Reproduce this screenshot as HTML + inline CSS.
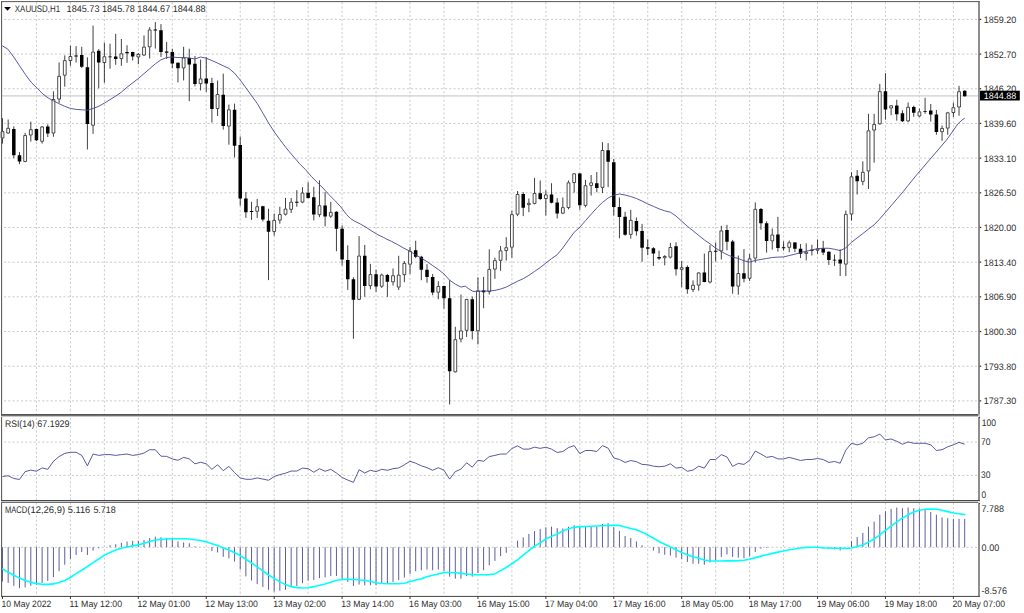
<!DOCTYPE html>
<html><head><meta charset="utf-8"><title>XAUUSD,H1</title>
<style>html,body{margin:0;padding:0;background:#fff;overflow:hidden}svg{display:block}text{font-family:"Liberation Sans",sans-serif}</style></head>
<body>
<svg width="1024" height="613" viewBox="0 0 1024 613">
<rect width="1024" height="613" fill="#fff"/>
<path d="M36.46 2.2V596.3M70.42 2.2V596.3M104.38 2.2V596.3M138.34 2.2V596.3M172.3 2.2V596.3M206.26 2.2V596.3M240.22 2.2V596.3M274.18 2.2V596.3M308.14 2.2V596.3M342.1 2.2V596.3M376.06 2.2V596.3M410.02 2.2V596.3M443.98 2.2V596.3M477.94 2.2V596.3M511.9 2.2V596.3M545.86 2.2V596.3M579.82 2.2V596.3M613.78 2.2V596.3M647.74 2.2V596.3M681.7 2.2V596.3M715.66 2.2V596.3M749.62 2.2V596.3M783.58 2.2V596.3M817.54 2.2V596.3M851.5 2.2V596.3M885.46 2.2V596.3M919.42 2.2V596.3M953.38 2.2V596.3" fill="none" stroke="#b8b8b8" stroke-width="0.75" stroke-dasharray="2.12 2.12"/>
<path d="M2.2 19.4H979M2.2 54.08H979M2.2 88.76H979M2.2 123.44H979M2.2 158.12H979M2.2 192.8H979M2.2 227.48H979M2.2 262.16H979M2.2 296.84H979M2.2 331.52H979M2.2 366.2H979M2.2 400.88H979M2.2 442.1H979M2.2 475.4H979M2.2 547.3H979" fill="none" stroke="#b8b8b8" stroke-width="0.75" stroke-dasharray="2.12 2.12" stroke-dashoffset="2.44"/>
<path d="M2 95.95H979" stroke="#cecece" stroke-width="1.2" fill="none"/>
<path d="M2.5 118.16V131.27M2.5 138.32V143.6M8.16 119.53V127.95M8.16 133.42V133.82M13.82 126.38V158.28M19.48 152.02V164.15M25.14 132.84V135.19M25.14 161.8V162.19M30.8 121.68V129.32M30.8 135.38V141.64M36.46 128.53V141.06M42.12 125.99V126.58M42.12 141.64V143.6M47.78 124.42V137.14M53.44 91.35V99.18M53.44 133.42V136.75M59.1 62.45V75.95M59.1 99.43V102.95M64.76 55.4V60.29M64.76 75.56V86.71M70.42 45.81V56.18M70.42 60.88V65.77M76.08 46.2V62.45M81.74 46.79V68.12M87.4 57.36V149.47M93.06 25.66V51.68M93.06 125.6V133.82M98.72 49.14V88.28M104.38 42.68V56.38M104.38 62.84V82.8M110.04 43.66V68.71M115.7 33.87V64.79M121.36 38.96V53.44M121.36 58.92V65.77M127.02 45.23V62.84M132.68 51.68V60.49M138.34 53.05V54.03M138.34 57.36V64.21M144 35.44V46.79M144 55.4V55.99M149.66 27.22V29.57M149.66 47.18V58.53M155.32 22.13V48.55M160.98 24.09V56.97M166.64 41.9V58.92M172.3 48.75V68.32M177.96 62.45V82.41M183.62 46.79V57.55M183.62 68.32V80.45M189.28 48.75V101.14M194.94 56.05V86.38M200.6 59.57V78.55M200.6 84.03V90.49M206.26 57.22V91.86M211.92 77.77V122.58M217.58 80.51V94.21M217.58 108.88V115.93M223.24 73.66V129.63M228.9 104.58V109.47M228.9 126.5V144.7M234.56 103.6V157.42M240.22 136.48V205.77M245.88 192.07V217.91M251.54 201.86V219.86M257.2 198.92V206.36M257.2 211.64V217.91M262.86 205.77V221.43M268.52 208.71V280.12M274.18 213.6V220.06M274.18 231.8V235.71M279.84 206.75V214.19M279.84 220.45V223.78M285.5 197.95V208.71M285.5 214.58V215.56M291.16 197.95V201.86M291.16 209.69V213.01M296.82 190.12V206.75M302.48 187.18V192.66M302.48 202.45V203.23M308.14 182.29V198.53M313.8 186.79V220.45M319.46 180.33V205.38M319.46 214.97V217.12M325.12 192.07V226.32M330.78 201.86V212.04M330.78 216.54V217.91M336.44 211.25V251.17M342.1 225.34V265.46M347.76 245.3V289.9M353.42 277.18V338.83M359.08 236.11V255.68M359.08 299.69V300.08M364.74 244.91V296.75M370.4 263.87V274.25M370.4 285.99V289.32M376.06 269.75V291.86M381.72 273.66V274.64M381.72 286.58V287.95M387.38 273.97V296.87M393.04 268.49V275.34M393.04 282.19V285.52M398.7 255.77V274.76M398.7 287.48V290.02M404.36 261.06V263.01M404.36 274.95V282.19M410.02 246.97V250.88M410.02 264.58V273.97M415.68 240.7V258.12M421.34 255.77V280.23M427 264.19V282.78M432.66 273.97V295.3M438.32 281.21V286.11M438.32 292.56V299.22M443.98 285.71V308.61M449.64 280.23V404.48M455.3 326.79V339.32M455.3 372.19V372.58M460.96 294.52V330.51M460.96 339.32V342.45M466.62 298.83V299.22M466.62 330.7V336.97M472.28 296.48V339.51M477.94 277.3V290.41M477.94 331.1V344.4M483.6 276.91V308.22M489.26 249.32V269.08M489.26 291.98V294.52M494.92 257.73V260.27M494.92 269.47V278.86M500.58 245.99V250.49M500.58 260.67V270.84M506.24 237.18V247.36M506.24 250.88V260.67M511.9 210.76V214.29M511.9 247.55V257.73M517.56 191.06V194.19M517.56 214.54V216.11M523.22 192.23V216.11M528.88 198.49V202.99M528.88 204.95V212.19M534.54 177.95V193.21M534.54 203.78V204.36M540.2 180.49V200.06M545.86 190.27V194.58M545.86 198.88V215.52M551.52 183.23V203.39M557.18 198.1V218.45M562.84 197.51V207.3M562.84 213.56V214.15M568.5 180.49V182.45M568.5 207.89V209.26M574.16 173.05V173.44M574.16 182.84V192.62M579.82 173.05V209.84M585.48 179.9V185.38M585.48 205.73V207.3M591.14 175.01V182.45M591.14 185.77V195.56M596.8 172.07V192.23M602.46 142.13V150.16M602.46 187.73V193.01M608.12 143.11V187.14M613.78 158.96V215.52M619.44 197.51V238.22M625.1 211.8V235.68M630.76 209.84V220.02M630.76 234.7V238.61M636.42 217.48V235.68M642.08 223.86V261.82M647.74 239.32V255.17M653.4 247.14V265.93M659.06 250.67V260.06M664.72 255.17V256.14M664.72 258.1V265.34M670.38 242.84V247.14M670.38 257.51V258.49M676.04 242.25V275.52M681.7 260.84V267.3M681.7 269.65V287.26M687.36 265.34V293.72M693.02 280.41V284.91M693.02 289.8V292.15M698.68 272.19V272.58M698.68 285.5V290.78M704.34 253.6V282.37M710 245.19V251.25M710 282.37V283.54M715.66 242.45V261.43M721.32 225.81V230.51M721.32 251.25V259.47M726.98 224.83V250.27M732.64 239.9V293.72M738.3 255.56V273.17M738.3 286.48V294.7M743.96 249.1V282.37M749.62 253.99V258.49M749.62 278.65V281M755.28 202.33V208.98M755.28 258.49V262.41M760.94 208V229.73M766.6 221.31V252.62M772.26 228.55V234.62M772.26 241.27V249.69M777.92 216.81V251.64M783.58 241.43V250.63M789.24 240.45V242.41M789.24 247.69V252.19M794.9 242.02V252.19M800.56 243.97V258.06M806.22 243.39V251.8M806.22 253.76V260.41M811.88 244.76V255.52M817.54 239.47V248.67M817.54 250.63V253.76M823.2 240.84V255.13M828.86 251.21V264.91M834.52 254.54V265.89M840.18 249.26V276.07M845.84 210.51V214.03M845.84 264.52V276.07M851.5 172.35V176.46M851.5 214.42V220.49M857.16 169.98V194.46M862.82 161.37V171.96M862.82 181.74V185.26M868.48 113.82V130.45M868.48 171.37V188.98M874.14 113.82V124.19M874.14 130.45V162.74M879.8 83.87V91.31M879.8 124.19V124.58M885.46 73.11V119.69M891.12 105.01V105.4M891.12 108.34V115.19M896.78 99.73V120.67M902.44 110.29V122.04M908.1 102.47V106.97M908.1 121.25V122.23M913.76 105.6V116.75M919.42 108.53V111.47M919.42 116.36V117.14M925.08 97.77V113.82M930.74 104.03V121.64M936.4 109.9V134.76M942.06 125.56V128.1M942.06 132.02V140.82M947.72 111.86V112.45M947.72 128.49V134.76M953.38 102.47V107.36M953.38 112.84V117.14M959.04 85.83V91.31M959.04 107.36V115.77M964.7 90.33V96.59" stroke="#000" stroke-width="0.75" fill="none"/>
<path d="M12.07 128.92h3.5V155.34h-3.5zM17.73 155.34h3.5V161.6h-3.5zM34.71 128.92h3.5V140.27h-3.5zM46.03 126.58h3.5V133.42h-3.5zM74.33 55.4h3.5V56.58h-3.5zM79.99 55.01h3.5V66.75h-3.5zM85.65 67.14h3.5V124.03h-3.5zM96.97 50.7h3.5V62.45h-3.5zM108.29 56.42h3.5V57.32h-3.5zM113.95 56.58h3.5V58.92h-3.5zM125.27 52.07h3.5V53.25h-3.5zM130.93 52.07h3.5V56.58h-3.5zM153.57 29.57h3.5V30.55h-3.5zM159.23 30.16h3.5V52.07h-3.5zM164.89 51.49h3.5V52.66h-3.5zM170.55 52.07h3.5V63.42h-3.5zM176.21 62.84h3.5V68.32h-3.5zM187.53 57.95h3.5V64.4h-3.5zM193.19 63.87h3.5V84.03h-3.5zM204.51 78.55h3.5V83.44h-3.5zM210.17 83.05h3.5V108.88h-3.5zM221.49 94.79h3.5V126.11h-3.5zM232.81 109.86h3.5V145.68h-3.5zM238.47 145.09h3.5V198.53h-3.5zM244.13 198.53h3.5V212.23h-3.5zM249.79 211.06h3.5V212.04h-3.5zM261.11 206.16h3.5V219.47h-3.5zM266.77 220.84h3.5V231.8h-3.5zM295.07 201.86h3.5V202.84h-3.5zM306.39 192.66h3.5V197.95h-3.5zM312.05 197.36h3.5V214.58h-3.5zM323.37 205.38h3.5V216.54h-3.5zM334.69 211.64h3.5V228.86h-3.5zM340.35 228.86h3.5V259.59h-3.5zM346.01 259.98h3.5V279.14h-3.5zM351.67 279.14h3.5V299.69h-3.5zM362.99 255.68h3.5V285.99h-3.5zM374.31 274.25h3.5V286.38h-3.5zM385.63 274.95h3.5V281.8h-3.5zM413.93 250.29h3.5V256.75h-3.5zM419.59 256.75h3.5V269.86h-3.5zM425.25 269.86h3.5V276.91h-3.5zM430.91 276.91h3.5V292.56h-3.5zM442.23 286.11h3.5V298.24h-3.5zM447.89 298.24h3.5V371.21h-3.5zM470.53 299.22h3.5V331.1h-3.5zM481.85 290.41h3.5V292.37h-3.5zM521.47 193.99h3.5V207.69h-3.5zM538.45 193.21h3.5V198.88h-3.5zM549.77 194.58h3.5V202.8h-3.5zM555.43 202.41h3.5V213.56h-3.5zM578.07 173.44h3.5V205.34h-3.5zM595.05 183.23h3.5V188.12h-3.5zM606.37 150.16h3.5V161.7h-3.5zM612.03 162.29h3.5V206.91h-3.5zM617.69 206.91h3.5V217.08h-3.5zM623.35 216.69h3.5V234.7h-3.5zM634.67 221h3.5V231.17h-3.5zM640.33 231.1h3.5V247.73h-3.5zM645.99 247.14h3.5V248.71h-3.5zM651.65 248.32h3.5V253.6h-3.5zM657.31 257.12h3.5V258.49h-3.5zM674.29 246.36h3.5V269.26h-3.5zM685.61 266.91h3.5V289.22h-3.5zM702.59 272.58h3.5V281.98h-3.5zM713.91 250.67h3.5V251.84h-3.5zM725.23 230.12h3.5V241.86h-3.5zM730.89 241.47h3.5V286.48h-3.5zM742.21 273.17h3.5V278.65h-3.5zM759.19 208.98h3.5V223.27h-3.5zM764.85 223.27h3.5V240.88h-3.5zM776.17 234.42h3.5V248.12h-3.5zM781.83 247.3h3.5V248.28h-3.5zM793.15 242.41h3.5V248.67h-3.5zM798.81 248.67h3.5V253.76h-3.5zM810.13 249.79h3.5V250.69h-3.5zM821.45 248.28h3.5V252.58h-3.5zM827.11 251.8h3.5V260.02h-3.5zM832.77 259.63h3.5V260.61h-3.5zM838.43 259.43h3.5V263.54h-3.5zM855.41 175.87h3.5V181.15h-3.5zM883.71 91.31h3.5V109.51h-3.5zM895.03 105.6h3.5V114.21h-3.5zM900.69 113.23h3.5V121.25h-3.5zM912.01 106.97h3.5V112.84h-3.5zM923.33 110.88h3.5V111.86h-3.5zM928.99 110.49h3.5V114.4h-3.5zM934.65 114.4h3.5V132.02h-3.5zM962.95 90.72h3.5V96.2h-3.5z" fill="#000"/>
<path d="M1.1 131.62h2.8V137.97h-2.8zM6.76 128.3h2.8V133.07h-2.8zM23.74 135.54h2.8V161.45h-2.8zM29.4 129.67h2.8V135.03h-2.8zM40.72 126.93h2.8V141.29h-2.8zM52.04 99.53h2.8V133.07h-2.8zM57.7 76.3h2.8V99.08h-2.8zM63.36 60.64h2.8V75.21h-2.8zM69.02 56.53h2.8V60.53h-2.8zM91.66 52.03h2.8V125.25h-2.8zM102.98 56.73h2.8V62.49h-2.8zM119.96 53.79h2.8V58.57h-2.8zM136.94 54.38h2.8V57.01h-2.8zM142.6 47.14h2.8V55.05h-2.8zM148.26 29.92h2.8V46.83h-2.8zM182.22 57.9h2.8V67.97h-2.8zM199.2 78.9h2.8V83.68h-2.8zM216.18 94.56h2.8V108.53h-2.8zM227.5 109.82h2.8V126.15h-2.8zM255.8 206.71h2.8V211.29h-2.8zM272.78 220.41h2.8V231.45h-2.8zM278.44 214.54h2.8V220.1h-2.8zM284.1 209.06h2.8V214.23h-2.8zM289.76 202.21h2.8V209.34h-2.8zM301.08 193.01h2.8V202.1h-2.8zM318.06 205.73h2.8V214.62h-2.8zM329.38 212.39h2.8V216.19h-2.8zM357.68 256.03h2.8V299.34h-2.8zM369 274.6h2.8V285.64h-2.8zM380.32 274.99h2.8V286.23h-2.8zM391.64 275.69h2.8V281.84h-2.8zM397.3 275.11h2.8V287.13h-2.8zM402.96 263.36h2.8V274.6h-2.8zM408.62 251.23h2.8V264.23h-2.8zM436.92 286.46h2.8V292.21h-2.8zM453.9 339.67h2.8V371.84h-2.8zM459.56 330.86h2.8V338.97h-2.8zM465.22 299.57h2.8V330.35h-2.8zM476.54 290.76h2.8V330.75h-2.8zM487.86 269.43h2.8V291.63h-2.8zM493.52 260.62h2.8V269.12h-2.8zM499.18 250.84h2.8V260.32h-2.8zM504.84 247.71h2.8V250.53h-2.8zM510.5 214.64h2.8V247.2h-2.8zM516.16 194.54h2.8V214.19h-2.8zM527.48 203.34h2.8V204.6h-2.8zM533.14 193.56h2.8V203.43h-2.8zM544.46 194.93h2.8V198.53h-2.8zM561.44 207.65h2.8V213.21h-2.8zM567.1 182.8h2.8V207.54h-2.8zM572.76 173.79h2.8V182.49h-2.8zM584.08 185.73h2.8V205.38h-2.8zM589.74 182.8h2.8V185.42h-2.8zM601.06 150.51h2.8V187.38h-2.8zM629.36 220.37h2.8V234.35h-2.8zM663.32 256.49h2.8V257.75h-2.8zM668.98 247.49h2.8V257.16h-2.8zM680.3 267.65h2.8V269.3h-2.8zM691.62 285.26h2.8V289.45h-2.8zM697.28 272.93h2.8V285.15h-2.8zM708.6 251.6h2.8V282.02h-2.8zM719.92 230.86h2.8V250.9h-2.8zM736.9 273.52h2.8V286.13h-2.8zM748.22 258.84h2.8V278.3h-2.8zM753.88 209.33h2.8V258.14h-2.8zM770.86 234.97h2.8V240.92h-2.8zM787.84 242.76h2.8V247.34h-2.8zM804.82 252.15h2.8V253.41h-2.8zM816.14 249.02h2.8V250.28h-2.8zM844.44 214.38h2.8V264.17h-2.8zM850.1 176.81h2.8V214.07h-2.8zM861.42 172.31h2.8V181.39h-2.8zM867.08 130.8h2.8V171.02h-2.8zM872.74 124.54h2.8V130.1h-2.8zM878.4 91.66h2.8V123.84h-2.8zM889.72 105.75h2.8V107.99h-2.8zM906.7 107.32h2.8V120.9h-2.8zM918.02 111.82h2.8V116.01h-2.8zM940.66 128.45h2.8V131.67h-2.8zM946.32 112.8h2.8V128.14h-2.8zM951.98 107.71h2.8V112.49h-2.8zM957.64 91.66h2.8V107.01h-2.8z" fill="#fff" stroke="#000" stroke-width="0.7"/>
<polyline fill="none" stroke="#464698" stroke-width="0.9" stroke-linejoin="round" points="2.35,45.81 7.83,49.14 13.7,56.97 19.57,65.77 25.44,74.58 31.31,82.41 37.18,88.28 43.05,94.15 48.92,98.45 53.82,101 58.71,103.54 64.58,106.28 70.45,108.43 76.32,109.41 82.19,109.8 87.48,110.2 93.15,108.43 98.83,106.28 104.7,102.95 109.98,99.63 115.66,96.11 121.33,92.19 127.01,87.3 132.68,82.8 138.36,78.49 144.03,73.6 149.71,68.71 155.38,63.82 160.86,59.9 166.54,57.55 172.21,56.97 177.89,57.55 183.56,57.55 189.24,57.95 194.89,58.98 200.57,57.03 206.24,58.2 211.92,60.55 217.59,63.09 223.27,65.83 228.94,68.38 234.62,73.27 240.29,80.12 245.97,87.95 251.64,95.77 257.32,103.6 262.99,113.39 268.67,123.17 274.34,131.98 280.02,139.8 285.69,147.24 287.85,150 293.72,156.85 299.59,163.7 305.46,169.57 311.33,176.42 317.2,182.29 323.07,188.16 328.94,194.62 334.81,200.49 340.68,206.75 346.56,214.58 350.47,218.49 354.38,221.04 360.25,223.97 366.13,227.3 372,231.21 377.87,234.74 380,235.81 383.74,237.48 385.87,238.75 391.74,241.49 397.61,244.62 403.48,247.95 409.94,251.27 415.62,254.79 421.29,258.12 426.97,261.64 432.64,265.56 438.32,269.47 443.99,273.97 449.67,280.23 455.34,284.15 461.02,287.08 465.13,286.11 469.04,289.04 472.95,291.39 477.85,291.39 483.52,291 489.2,291 494.87,290.41 500.55,289.04 506.22,287.08 511.9,284.15 517.57,281.21 523.25,278.67 528.92,275.34 534.6,271.43 540.27,267.51 545.95,263.01 551.43,258.71 557.1,254.79 562.78,247.95 568.45,240.12 574.13,232.29 580,227.01 585.68,220.41 591.55,213.76 597.42,207.3 602.5,202.41 608.18,197.91 613.86,195.17 619.33,193.99 625.01,194.97 630.68,196.54 636.36,198.49 642.04,201.04 647.71,203.97 653.39,206.32 659.06,208.86 664.74,210.82 670.41,212.19 676.09,216.11 681.8,221.31 687.28,226.2 692.95,230.7 698.63,235.4 704.31,239.9 709.98,243.82 715.66,248.12 721.33,251.64 727.01,254.58 732.68,257.12 738.36,258.49 744.03,260.84 749.71,262.02 755.19,260.45 760.86,259.47 766.54,258.49 772.21,257.51 777.89,257.12 783.56,256.93 789.24,255.56 794.91,254.19 800.55,252.58 806.22,251.21 811.9,249.84 817.57,248.67 823.25,248.28 828.92,248.28 834.6,249.26 840.27,250.63 845.75,247.89 851.43,242.41 857.1,237.91 862.78,233.6 868.45,229.1 874.13,224.79 879.8,218.92 885.68,212.07 891.55,205.23 897.42,198.38 903.29,191.53 909.16,184.09 915.03,176.85 916.99,174.48 922.86,167.63 928.73,160.78 934.6,153.93 940.47,147.08 946.34,140.23 952.21,132.02 958.08,123.6 962.97,119.3 964.74,118.32"/>
<polyline fill="none" stroke="#464698" stroke-width="0.9" stroke-linejoin="round" points="2.5,476.54 8.16,475.75 13.82,478.49 19.48,479.47 25.14,471.64 30.8,470.08 36.46,471.25 42.12,467.93 47.78,469.3 53.44,461.27 59.1,456.58 64.76,453.44 70.42,452.27 76.08,452.27 81.74,455.4 87.4,465.77 93.06,454.03 98.72,455.4 104.38,454.62 110.04,454.62 115.7,455.4 121.36,454.62 127.02,454.03 132.68,455.4 138.34,454.62 144,453.05 149.66,449.73 155.32,449.73 160.98,456.18 166.64,456.38 172.3,458.92 177.96,460.29 183.62,457.36 189.28,458.92 194.94,463.82 200.6,462.25 206.26,463.82 211.92,469.3 217.58,464.79 223.24,470.67 228.9,466.36 234.56,472.62 240.22,477.91 245.88,479.28 251.54,479.28 257.2,477.91 262.86,479.08 268.52,480.25 274.18,476.54 279.84,474.58 285.5,473.21 291.16,471.06 296.82,471.06 302.48,468.12 308.14,468.71 313.8,472.23 319.46,468.71 325.12,471.25 330.78,469.3 336.44,473.01 342.1,477.51 347.76,480.06 353.42,482.41 359.08,469.69 364.74,473.01 370.4,470.27 376.06,471.64 381.72,469.3 387.38,470.27 393.04,468.71 398.7,467.93 404.36,464.79 410.02,461.27 415.68,463.23 421.34,465.77 427,467.73 432.66,470.27 438.32,467.73 443.98,470.27 449.64,479.08 455.3,471.64 460.96,469.1 466.62,462.84 472.28,467.14 477.94,460.29 483.6,461.27 489.26,456.58 494.92,455.4 500.58,454.03 506.24,454.03 511.9,448.55 517.56,445.81 523.22,449.14 528.88,449.14 534.54,447.18 540.2,448.36 545.86,447.18 551.52,449.14 557.18,452.47 562.84,451.49 568.5,447.57 574.16,445.62 579.82,453.64 585.48,450.51 591.14,450.51 596.8,451.49 602.46,445.62 608.12,448.16 613.78,457.95 619.44,459.51 625.1,462.45 630.76,460.49 636.42,461.66 642.08,464.4 647.74,464.79 653.4,466.16 659.06,466.75 664.72,466.16 670.38,463.82 676.04,468.12 681.7,467.34 687.36,471.25 693.02,470.08 698.68,466.16 704.34,468.12 710,459.51 715.66,459.51 721.32,454.62 726.98,456.97 732.64,466.36 738.3,463.42 743.96,464.4 749.62,460.29 755.28,451.1 760.94,454.03 766.6,457.36 772.26,456.38 777.92,458.92 783.58,458.92 789.24,457.36 794.9,458.92 800.56,460.49 806.22,459.51 811.88,459.51 817.54,458.53 823.2,459.51 828.86,462.45 834.52,461.47 840.18,463.23 845.84,450.12 851.5,443.27 857.16,444.83 862.82,443.27 868.48,437.79 874.14,436.81 879.8,434.07 885.46,439.94 891.12,438.96 896.78,441.31 902.44,444.25 908.1,441.9 913.76,443.27 919.42,443.27 925.08,443.27 930.74,444.83 936.4,450.51 942.06,449.73 947.72,446.79 953.38,444.83 959.04,442.29 964.7,444.25"/>
<path d="M2.5 547.2V581.52M8.16 547.2V582.89M13.82 547.2V585.82M19.48 547.2V588.16M25.14 547.2V587.38M30.8 547.2V585.82M36.46 547.2V584.84M42.12 547.2V582.89M47.78 547.2V580.94M53.44 547.2V577.03M59.1 547.2V571.17M64.76 547.2V564.73M70.42 547.2V559.06M76.08 547.2V554.96M81.74 547.2V552.03M87.4 547.2V554.96M93.06 547.2V550.66M98.72 547.2V548.32M110.04 547.2V545.2M115.7 547.2V544.22M121.36 547.2V542.85M127.02 547.2V541.48M132.68 547.2V540.9M138.34 547.2V540.9M144 547.2V540.08M149.66 547.2V538.03M155.32 547.2V536.66M160.98 547.2V537.34M166.64 547.2V538.03M172.3 547.2V538.71M177.96 547.2V541.45M183.62 547.2V542.41M189.28 547.2V543.23M194.94 547.2V546.25M211.92 547.2V551.04M217.58 547.2V552.41M223.24 547.2V556.79M228.9 547.2V558.3M234.56 547.2V561.59M240.22 547.2V569.53M245.88 547.2V576.38M251.54 547.2V580.49M257.2 547.2V584.19M262.86 547.2V587.07M268.52 547.2V589.81M274.18 547.2V591.73M279.84 547.2V590.77M285.5 547.2V589.81M291.16 547.2V586.66M296.82 547.2V585.97M302.48 547.2V583.23M308.14 547.2V580.49M313.8 547.2V580.08M319.46 547.2V578.16M325.12 547.2V577.34M330.78 547.2V576.11M336.44 547.2V575.97M342.1 547.2V579.12M347.76 547.2V581.86M353.42 547.2V585.97M359.08 547.2V584.6M364.74 547.2V585.29M370.4 547.2V585.29M376.06 547.2V585.29M381.72 547.2V583.92M387.38 547.2V583.51M393.04 547.2V581.86M398.7 547.2V580.08M404.36 547.2V577.48M410.02 547.2V573.92M415.68 547.2V571.18M421.34 547.2V570.22M427 547.2V569.53M432.66 547.2V570.22M438.32 547.2V569.53M443.98 547.2V570.9M449.64 547.2V576.66M455.3 547.2V578.71M460.96 547.2V578.71M466.62 547.2V575.97M472.28 547.2V576.66M477.94 547.2V572.96M483.6 547.2V570.22M489.26 547.2V565.42M494.92 547.2V560.9M500.58 547.2V556.11M506.24 547.2V552.82M517.56 547.2V540.77M523.22 547.2V537.34M528.88 547.2V533.92M534.54 547.2V531.18M540.2 547.2V528.85M545.86 547.2V527.34M551.52 547.2V526.66M557.18 547.2V528.16M562.84 547.2V528.44M568.5 547.2V526.66M574.16 547.2V525.29M579.82 547.2V526.66M585.48 547.2V526.66M591.14 547.2V526.38M596.8 547.2V526.38M602.46 547.2V524.05M608.12 547.2V523.23M613.78 547.2V527.07M619.44 547.2V530.9M625.1 547.2V535.97M630.76 547.2V538.03M636.42 547.2V541.45M642.08 547.2V545.15M653.4 547.2V550.63M659.06 547.2V553.37M664.72 547.2V554.74M670.38 547.2V555.56M676.04 547.2V557.62M681.7 547.2V558.99M687.36 547.2V562M693.02 547.2V563.78M698.68 547.2V563.78M704.34 547.2V564.74M710 547.2V562.41M715.66 547.2V560.63M721.32 547.2V556.93M726.98 547.2V554.47M732.64 547.2V556.93M738.3 547.2V557.62M743.96 547.2V558.16M749.62 547.2V556.52M755.28 547.2V552M760.94 547.2V548.71M766.6 547.2V547.89M823.2 547.2V547.62M828.86 547.2V548.71M834.52 547.2V549.26M840.18 547.2V550.41M851.5 547.2V541.1M857.16 547.2V536.99M862.82 547.2V532.88M868.48 547.2V526.71M874.14 547.2V521.64M879.8 547.2V514.66M885.46 547.2V511.23M891.12 547.2V508.9M896.78 547.2V507.53M902.44 547.2V508.22M908.1 547.2V507.53M913.76 547.2V508.22M919.42 547.2V508.63M925.08 547.2V509.32M930.74 547.2V511.92M936.4 547.2V514.66M942.06 547.2V517.4M947.72 547.2V518.22M953.38 547.2V518.9M959.04 547.2V518.9M964.7 547.2V518.9" stroke="#5e5e9e" stroke-width="1.0" fill="none"/>
<polyline fill="none" stroke="#00ffff" stroke-width="1.6" stroke-linejoin="round" stroke-linecap="round" points="2.5,568.85 8.16,572.27 13.82,575.29 19.48,578.03 25.14,580.49 30.8,582.27 36.46,583.64 42.12,584.33 47.78,584.33 53.44,583.92 59.1,582.55 64.76,580.49 70.42,577.48 76.08,573.64 81.74,570.22 87.4,566.52 93.06,562.68 98.72,558.99 104.38,555.15 110.04,552.41 115.7,550.08 121.36,548.3 127.02,546.93 132.68,545.84 138.34,544.88 144,543.23 149.66,541.45 155.32,540.08 160.98,539.4 166.64,538.99 172.3,538.71 177.96,538.71 183.62,538.71 189.28,538.99 194.94,539.81 200.6,540.49 206.26,541.86 211.92,543.78 217.58,545.56 223.24,547.89 228.9,550.08 234.56,552.68 240.22,555.56 245.88,559.26 251.54,562.96 257.2,566.79 262.86,570.9 268.52,575.01 274.18,578.44 279.84,581.86 285.5,584.6 291.16,586.66 296.82,587.62 302.48,588.03 308.14,587.75 313.8,586.66 319.46,585.29 325.12,583.92 330.78,582.27 336.44,580.22 342.1,579.53 347.76,579.4 353.42,579.53 359.08,579.81 364.74,580.49 370.4,581.18 376.06,582.82 381.72,583.51 387.38,583.78 393.04,583.78 398.7,583.78 404.36,583.23 410.02,581.59 415.68,580.08 421.34,578.85 427,576.79 432.66,575.29 438.32,573.92 443.98,572.55 449.64,572.55 455.3,572.68 460.96,573.37 466.62,574.05 472.28,574.6 477.94,574.74 483.6,574.74 489.26,574.6 494.92,573.92 500.58,570.63 506.24,567.48 511.9,563.78 517.56,559.86 523.22,555.07 528.88,550.68 534.54,546.25 540.2,542.82 545.86,538.99 551.52,536.38 557.18,533.92 562.84,530.9 568.5,528.71 574.16,527.34 579.82,526.66 585.48,526.52 591.14,526.25 596.8,525.97 602.46,525.7 608.12,525.42 613.78,525.29 619.44,525.42 625.1,527.07 630.76,528.44 636.42,529.81 642.08,532.14 647.74,535.01 653.4,538.3 659.06,541.45 664.72,544.19 670.38,546.93 676.04,549.67 681.7,552.41 687.36,554.88 693.02,556.79 698.68,558.3 704.34,559.95 710,561.04 715.66,561.04 721.32,561.04 726.98,560.9 732.64,560.9 738.3,560.63 743.96,560.22 749.62,559.26 755.28,557.62 760.94,556.11 766.6,554.74 772.26,553.37 777.92,552.14 783.58,551.04 789.24,549.67 794.9,548.99 800.56,548.03 806.22,547.34 811.88,547.21 817.54,547.21 823.2,547.89 828.86,548.03 834.52,548.3 840.18,548.22 845.84,548.36 851.5,547.95 857.16,546.58 862.82,544.93 868.48,542.19 874.14,539.04 879.8,534.93 885.46,530.41 891.12,526.03 896.78,521.92 902.44,518.08 908.1,514.79 913.76,512.05 919.42,510.27 925.08,509.32 930.74,509.04 936.4,509.32 942.06,510.27 947.72,511.64 953.38,513.01 959.04,513.7 964.7,514.66"/>
<rect x="979" y="0" width="45" height="613" fill="#fff"/>
<rect x="0" y="596.3" width="1024" height="16.7" fill="#fff"/>
<rect x="978" y="1" width="2" height="596" fill="#8e8e8e"/>
<rect x="1" y="1" width="979" height="1.12" fill="#686868"/>
<rect x="1" y="1" width="1.12" height="596" fill="#626262"/>
<rect x="1" y="595.9" width="979" height="1.1" fill="#555"/>
<rect x="1" y="414" width="978" height="1" fill="#555"/>
<rect x="1" y="415" width="978" height="1" fill="#707070"/>
<rect x="1" y="416" width="978" height="1" fill="#c8c8c8"/>
<rect x="978" y="414" width="2" height="3" fill="#fff" fill-opacity="0.45"/>
<rect x="979" y="417" width="1" height="1" fill="#444"/>
<rect x="1" y="500" width="979" height="1" fill="#484848"/>
<rect x="1" y="501" width="978" height="1" fill="#c8c8c8"/>
<rect x="1" y="502" width="978" height="1" fill="#707070"/>
<rect x="979" y="503" width="1" height="1" fill="#444"/>
<rect x="978" y="501" width="2" height="2" fill="#fff" fill-opacity="0.7"/>
<g font-family="Liberation Sans, sans-serif" text-rendering="geometricPrecision">
<path d="M4.1 6.9h6.8l-3.4 3.8z" fill="#000"/>
<text x="14.8" y="12" font-size="9.6" fill="#2e2e2e" stroke="#2e2e2e" stroke-width="0" text-anchor="start" textLength="45.4" lengthAdjust="spacingAndGlyphs">XAUUSD,H1</text>
<text x="66.6" y="12" font-size="9.6" fill="#2e2e2e" stroke="#2e2e2e" stroke-width="0" text-anchor="start" textLength="139" lengthAdjust="spacingAndGlyphs">1845.73 1845.78 1844.67 1844.88</text>
<text x="4.9" y="427" font-size="9.6" fill="#2e2e2e" stroke="#2e2e2e" stroke-width="0" text-anchor="start" textLength="29.8" lengthAdjust="spacingAndGlyphs">RSI(14)</text>
<text x="37.2" y="427" font-size="9.6" fill="#2e2e2e" stroke="#2e2e2e" stroke-width="0" text-anchor="start" textLength="32.4" lengthAdjust="spacingAndGlyphs">67.1929</text>
<text x="4.9" y="513" font-size="9.6" fill="#2e2e2e" stroke="#2e2e2e" stroke-width="0" text-anchor="start" textLength="22.2" lengthAdjust="spacingAndGlyphs">MACD</text>
<text x="27.3" y="513" font-size="9.6" fill="#2e2e2e" stroke="#2e2e2e" stroke-width="0" text-anchor="start" textLength="37.8" lengthAdjust="spacingAndGlyphs">(12,26,9)</text>
<text x="67.8" y="513" font-size="9.6" fill="#2e2e2e" stroke="#2e2e2e" stroke-width="0" text-anchor="start" textLength="22.4" lengthAdjust="spacingAndGlyphs">5.116</text>
<text x="93.4" y="513" font-size="9.6" fill="#2e2e2e" stroke="#2e2e2e" stroke-width="0" text-anchor="start" textLength="22.4" lengthAdjust="spacingAndGlyphs">5.718</text>
<text x="983.8" y="23" font-size="9.4" fill="#2e2e2e" stroke="#2e2e2e" stroke-width="0" text-anchor="start" textLength="32.5" lengthAdjust="spacingAndGlyphs">1859.20</text>
<rect x="979.6" y="18.8" width="1.6" height="1.2" fill="#333"/>
<text x="983.8" y="58" font-size="9.4" fill="#2e2e2e" stroke="#2e2e2e" stroke-width="0" text-anchor="start" textLength="32.5" lengthAdjust="spacingAndGlyphs">1852.70</text>
<rect x="979.6" y="53.48" width="1.6" height="1.2" fill="#333"/>
<text x="983.8" y="92" font-size="9.4" fill="#2e2e2e" stroke="#2e2e2e" stroke-width="0" text-anchor="start" textLength="32.5" lengthAdjust="spacingAndGlyphs">1846.20</text>
<rect x="979.6" y="88.16" width="1.6" height="1.2" fill="#333"/>
<text x="983.8" y="127" font-size="9.4" fill="#2e2e2e" stroke="#2e2e2e" stroke-width="0" text-anchor="start" textLength="32.5" lengthAdjust="spacingAndGlyphs">1839.60</text>
<rect x="979.6" y="122.84" width="1.6" height="1.2" fill="#333"/>
<text x="983.8" y="162" font-size="9.4" fill="#2e2e2e" stroke="#2e2e2e" stroke-width="0" text-anchor="start" textLength="32.5" lengthAdjust="spacingAndGlyphs">1833.10</text>
<rect x="979.6" y="157.52" width="1.6" height="1.2" fill="#333"/>
<text x="983.8" y="196" font-size="9.4" fill="#2e2e2e" stroke="#2e2e2e" stroke-width="0" text-anchor="start" textLength="32.5" lengthAdjust="spacingAndGlyphs">1826.50</text>
<rect x="979.6" y="192.2" width="1.6" height="1.2" fill="#333"/>
<text x="983.8" y="231" font-size="9.4" fill="#2e2e2e" stroke="#2e2e2e" stroke-width="0" text-anchor="start" textLength="32.5" lengthAdjust="spacingAndGlyphs">1820.00</text>
<rect x="979.6" y="226.88" width="1.6" height="1.2" fill="#333"/>
<text x="983.8" y="266" font-size="9.4" fill="#2e2e2e" stroke="#2e2e2e" stroke-width="0" text-anchor="start" textLength="32.5" lengthAdjust="spacingAndGlyphs">1813.40</text>
<rect x="979.6" y="261.56" width="1.6" height="1.2" fill="#333"/>
<text x="983.8" y="300" font-size="9.4" fill="#2e2e2e" stroke="#2e2e2e" stroke-width="0" text-anchor="start" textLength="32.5" lengthAdjust="spacingAndGlyphs">1806.90</text>
<rect x="979.6" y="296.24" width="1.6" height="1.2" fill="#333"/>
<text x="983.8" y="335" font-size="9.4" fill="#2e2e2e" stroke="#2e2e2e" stroke-width="0" text-anchor="start" textLength="32.5" lengthAdjust="spacingAndGlyphs">1800.30</text>
<rect x="979.6" y="330.92" width="1.6" height="1.2" fill="#333"/>
<text x="983.8" y="370" font-size="9.4" fill="#2e2e2e" stroke="#2e2e2e" stroke-width="0" text-anchor="start" textLength="32.5" lengthAdjust="spacingAndGlyphs">1793.80</text>
<rect x="979.6" y="365.6" width="1.6" height="1.2" fill="#333"/>
<text x="983.8" y="404" font-size="9.4" fill="#2e2e2e" stroke="#2e2e2e" stroke-width="0" text-anchor="start" textLength="32.5" lengthAdjust="spacingAndGlyphs">1787.30</text>
<rect x="979.6" y="400.28" width="1.6" height="1.2" fill="#333"/>
<rect x="980" y="90.7" width="39.8" height="9.8" fill="#000"/>
<text x="983.8" y="99" font-size="9.4" fill="#fff" stroke="#fff" stroke-width="0" text-anchor="start" textLength="32.5" lengthAdjust="spacingAndGlyphs">1844.88</text>
<text x="981.7" y="426" font-size="9.6" fill="#2e2e2e" stroke="#2e2e2e" stroke-width="0" text-anchor="start" textLength="14.3" lengthAdjust="spacingAndGlyphs">100</text>
<text x="981" y="445" font-size="9.6" fill="#2e2e2e" stroke="#2e2e2e" stroke-width="0" text-anchor="start" textLength="9.4" lengthAdjust="spacingAndGlyphs">70</text>
<text x="981" y="478" font-size="9.6" fill="#2e2e2e" stroke="#2e2e2e" stroke-width="0" text-anchor="start" textLength="9.4" lengthAdjust="spacingAndGlyphs">30</text>
<text x="981.4" y="498" font-size="9.6" fill="#2e2e2e" stroke="#2e2e2e" stroke-width="0" text-anchor="start" textLength="4.6" lengthAdjust="spacingAndGlyphs">0</text>
<text x="981.6" y="512" font-size="9.6" fill="#2e2e2e" stroke="#2e2e2e" stroke-width="0" text-anchor="start" textLength="22.5" lengthAdjust="spacingAndGlyphs">7.788</text>
<text x="981.6" y="550.5" font-size="9.6" fill="#2e2e2e" stroke="#2e2e2e" stroke-width="0" text-anchor="start" textLength="17.6" lengthAdjust="spacingAndGlyphs">0.00</text>
<text x="981.6" y="594" font-size="9.6" fill="#2e2e2e" stroke="#2e2e2e" stroke-width="0" text-anchor="start" textLength="25.3" lengthAdjust="spacingAndGlyphs">-8.576</text>
<text x="1.6" y="607" font-size="9.2" fill="#2e2e2e" stroke="#2e2e2e" stroke-width="0" text-anchor="start" textLength="49.6" lengthAdjust="spacingAndGlyphs">10 May 2022</text>
<text x="69.52" y="607" font-size="9.2" fill="#2e2e2e" stroke="#2e2e2e" stroke-width="0" text-anchor="start" textLength="52.6" lengthAdjust="spacingAndGlyphs">11 May 12:00</text>
<text x="137.44" y="607" font-size="9.2" fill="#2e2e2e" stroke="#2e2e2e" stroke-width="0" text-anchor="start" textLength="52.6" lengthAdjust="spacingAndGlyphs">12 May 01:00</text>
<text x="205.36" y="607" font-size="9.2" fill="#2e2e2e" stroke="#2e2e2e" stroke-width="0" text-anchor="start" textLength="52.6" lengthAdjust="spacingAndGlyphs">12 May 13:00</text>
<text x="273.28" y="607" font-size="9.2" fill="#2e2e2e" stroke="#2e2e2e" stroke-width="0" text-anchor="start" textLength="52.6" lengthAdjust="spacingAndGlyphs">13 May 02:00</text>
<text x="341.2" y="607" font-size="9.2" fill="#2e2e2e" stroke="#2e2e2e" stroke-width="0" text-anchor="start" textLength="52.6" lengthAdjust="spacingAndGlyphs">13 May 14:00</text>
<text x="409.12" y="607" font-size="9.2" fill="#2e2e2e" stroke="#2e2e2e" stroke-width="0" text-anchor="start" textLength="52.6" lengthAdjust="spacingAndGlyphs">16 May 03:00</text>
<text x="477.04" y="607" font-size="9.2" fill="#2e2e2e" stroke="#2e2e2e" stroke-width="0" text-anchor="start" textLength="52.6" lengthAdjust="spacingAndGlyphs">16 May 15:00</text>
<text x="544.96" y="607" font-size="9.2" fill="#2e2e2e" stroke="#2e2e2e" stroke-width="0" text-anchor="start" textLength="52.6" lengthAdjust="spacingAndGlyphs">17 May 04:00</text>
<text x="612.88" y="607" font-size="9.2" fill="#2e2e2e" stroke="#2e2e2e" stroke-width="0" text-anchor="start" textLength="52.6" lengthAdjust="spacingAndGlyphs">17 May 16:00</text>
<text x="680.8" y="607" font-size="9.2" fill="#2e2e2e" stroke="#2e2e2e" stroke-width="0" text-anchor="start" textLength="52.6" lengthAdjust="spacingAndGlyphs">18 May 05:00</text>
<text x="748.72" y="607" font-size="9.2" fill="#2e2e2e" stroke="#2e2e2e" stroke-width="0" text-anchor="start" textLength="52.6" lengthAdjust="spacingAndGlyphs">18 May 17:00</text>
<text x="816.64" y="607" font-size="9.2" fill="#2e2e2e" stroke="#2e2e2e" stroke-width="0" text-anchor="start" textLength="52.6" lengthAdjust="spacingAndGlyphs">19 May 06:00</text>
<text x="884.56" y="607" font-size="9.2" fill="#2e2e2e" stroke="#2e2e2e" stroke-width="0" text-anchor="start" textLength="52.6" lengthAdjust="spacingAndGlyphs">19 May 18:00</text>
<text x="952.48" y="607" font-size="9.2" fill="#2e2e2e" stroke="#2e2e2e" stroke-width="0" text-anchor="start" textLength="52.6" lengthAdjust="spacingAndGlyphs">20 May 07:00</text>
<path d="M2.5 596.3V598.9M70.42 596.3V598.9M138.34 596.3V598.9M206.26 596.3V598.9M274.18 596.3V598.9M342.1 596.3V598.9M410.02 596.3V598.9M477.94 596.3V598.9M545.86 596.3V598.9M613.78 596.3V598.9M681.7 596.3V598.9M749.62 596.3V598.9M817.54 596.3V598.9M885.46 596.3V598.9M953.38 596.3V598.9" stroke="#333" stroke-width="1" fill="none"/>
</g>
</svg>
</body></html>
